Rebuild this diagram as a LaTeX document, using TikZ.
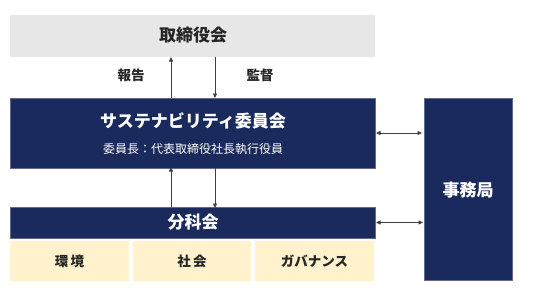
\documentclass[tikz,border=0pt]{standalone}
\usepackage{fontspec}
\setmainfont{Noto Sans CJK JP}
\newfontfamily\jpb{Noto Sans CJK JP Bold}
\usetikzlibrary{arrows.meta}
\definecolor{navy}{HTML}{1B2A5C}
\definecolor{lgray}{HTML}{E7E7E7}
\definecolor{cream}{HTML}{FFF2CC}
\definecolor{arr}{HTML}{404040}
\begin{document}
\begin{tikzpicture}[x=1pt,y=-1pt,
  box/.style={inner sep=0pt,outer sep=0pt,anchor=north west},
  navybox/.style={box,fill=navy,draw=navy!70!white,line width=0.6pt},
  conn/.style={draw=arr,line width=0.8pt,-{Triangle[length=4.5pt,width=4pt]}},
  dconn/.style={draw=arr,line width=0.8pt,{Triangle[length=4.5pt,width=4pt]}-{Triangle[length=4.5pt,width=4pt]}},
  lbl/.style={font=\fontsize{13.5}{14}\selectfont\bfseries}
]
\useasboundingbox (0,0) rectangle (533,292);
% boxes
\node[box,fill=lgray,minimum width=365pt,minimum height=42pt] (bod) at (10,15) {};
\node[lbl,font=\fontsize{17}{18}\selectfont\bfseries,text=black!85] (bodt) at (193,35) {取締役会};
\node[navybox,minimum width=365pt,minimum height=70pt] (sus) at (10,98) {};
\node[font=\fontsize{17}{18}\selectfont\bfseries,text=white] (sust) at (193,121) {サステナビリティ委員会};
\node[font=\fontsize{12}{13}\selectfont,text=white] (subt) at (193,149) {委員長：代表取締役社長執行役員};
\node[navybox,minimum width=88pt,minimum height=182pt] (jim) at (424,98) {};
\node[font=\fontsize{17}{18}\selectfont\bfseries,text=white] (jimt) at (468,190) {事務局};
\node[navybox,minimum width=365pt,minimum height=31pt] (bk) at (10,207) {};
\node[font=\fontsize{17}{18}\selectfont\bfseries,text=white] (bkt) at (193,222.5) {分科会};
\node[box,fill=cream,minimum width=119pt,minimum height=40pt] (env) at (10,241) {};
\node[box,fill=cream,minimum width=118pt,minimum height=40pt] (soc) at (133,241) {};
\node[box,fill=cream,minimum width=119pt,minimum height=40pt] (gov) at (255,241) {};
\node[lbl,text=black!85] at (env.center) {環\,境};
\node[lbl,text=black!85] at (soc.center) {社\,会};
\node[lbl,text=black!85] at (gov.center) {ガバナンス};
\node[lbl,text=black!85] (rep) at (131,75) {報告};
\node[lbl,text=black!85] (sup) at (260,75) {監督};
% connectors
\coordinate (xa) at (171,0);
\coordinate (xb) at (215,0);
\draw[conn] (sus.north -| xa) -- (bod.south -| xa);
\draw[conn] (bod.south -| xb) -- (sus.north -| xb);
\draw[conn] ([yshift=0pt]bk.north -| xa) -- ([yshift=1pt]sus.south -| xa);
\draw[conn] ([yshift=0pt]sus.south -| xb) -- ([yshift=-1pt]bk.north -| xb);
\draw[dconn] ([xshift=1pt]sus.east) -- ([xshift=-2pt]jim.west |- sus.east);
\draw[dconn] ([xshift=1pt]bk.east) -- ([xshift=-1pt]jim.west |- bk.east);
\end{tikzpicture}
\end{document}
